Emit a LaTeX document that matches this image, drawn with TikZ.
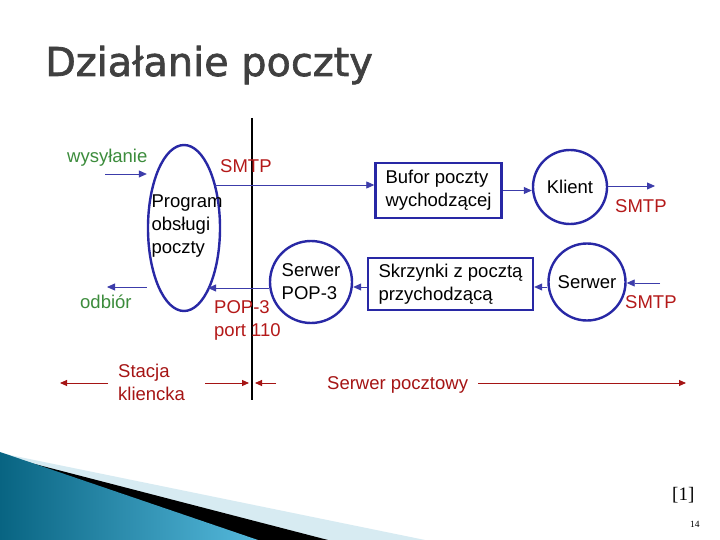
\documentclass[tikz,border=0pt]{standalone}
\usepackage{fontspec}
\setmainfont{Liberation Sans}
\newfontfamily\titlefont[FakeBold=1.6]{DejaVu Sans}
\newfontfamily\seriffont{Liberation Serif}
\usetikzlibrary{shapes.geometric,arrows.meta}
\definecolor{nodeblue}{RGB}{40,40,165}
\definecolor{linkblue}{RGB}{60,60,170}
\definecolor{lblred}{RGB}{180,25,25}
\definecolor{axisred}{RGB}{165,20,20}
\definecolor{lblgreen}{RGB}{60,140,60}
\definecolor{titlegray}{RGB}{64,64,64}
\definecolor{tealdark}{RGB}{8,100,130}
\definecolor{teallight}{RGB}{85,185,220}
\definecolor{paleblue}{RGB}{215,235,242}
\tikzset{
  txt/.style={font=\fontsize{18.5}{23}\selectfont, inner sep=0pt},
  boxnode/.style={draw=nodeblue, line width=2.4pt, txt, align=left},
  circnode/.style={circle, draw=nodeblue, line width=2.4pt, txt, align=left, inner sep=0pt},
  arr/.style={draw=linkblue, line width=0.8pt, -{Triangle[length=8pt,width=7pt]}},
  redarr/.style={draw=axisred, line width=0.9pt, -{Triangle[length=7pt,width=6pt]}},
  redlbl/.style={txt, text=lblred, align=left},
  greenlbl/.style={txt, text=lblgreen},
}
\begin{document}
\begin{tikzpicture}[x=1pt,y=-1pt]
\useasboundingbox (0,0) rectangle (720,540);
\fill[white] (0,0) rectangle (720,540);

% bottom-left swoosh
\fill[paleblue] (0,453) -- (425,540) -- (0,540) -- cycle;
\fill[black] (0,455) -- (328,540) -- (0,540) -- cycle;
\shade[left color=tealdark, right color=teallight] (0,452) -- (258,540) -- (0,540) -- cycle;

% title
\node[anchor=base west, inner sep=0pt, font=\titlefont\fontsize{39.8}{40}\selectfont, text=titlegray] (title) at (45,76) {Działanie poczty};

% vertical divider
\coordinate (vtop) at (252,118);
\coordinate (vbot) at (252,400);
\draw[black, line width=1.8pt] (vtop) -- (vbot);

% nodes
\node[ellipse, draw=nodeblue, line width=2.4pt, minimum width=72pt, minimum height=166pt, inner sep=0pt] (prog) at (184,228) {};
\node[txt, align=left] (progtxt) at (187,226) {Program\\obsługi\\poczty};
\node[boxnode, minimum width=126pt, minimum height=55pt] (buf) at (438.5,190.5) {Bufor poczty\\wychodzącej};
\node[circnode, minimum size=74pt] (klient) at (570,187) {Klient};
\node[circnode, minimum size=82pt] (pop) at (311,282) {Serwer\\POP-3};
\node[boxnode, minimum width=165pt, minimum height=52pt] (skrz) at (450.5,284) {Skrzynki z pocztą\\przychodzącą};
\node[circnode, minimum size=77pt] (serw) at (587,282) {Serwer};

% labels
\node[greenlbl, anchor=base west] (wys) at (67,163) {wysyłanie};
\node[greenlbl, anchor=base west] (odb) at (80,308) {odbiór};
\node[redlbl, anchor=base west] (smtp1) at (220,173) {SMTP};
\node[redlbl, anchor=base west] (smtp2) at (615,213) {SMTP};
\node[redlbl, anchor=base west] (smtp3) at (625,308) {SMTP};
\node[redlbl, anchor=north west] (popport) at (214,300) {POP-3\\port 110};
\node[txt, text=axisred, align=left, anchor=west] (stacja) at (118,382) {Stacja\\kliencka};
\node[txt, text=axisred, anchor=base west] (serwpoczt) at (327,389) {Serwer pocztowy};

% blue connectors
\coordinate (wysin) at (105,174);
\draw[arr] (wysin) -- (wysin -| prog.west);
\coordinate (odbout) at (107,287);
\draw[arr] (odbout -| prog.west) -- (odbout);
\coordinate (smtpstart) at (215,185);
\draw[arr] (smtpstart) -- (smtpstart -| buf.west);
\draw[arr] (buf.east) -- (buf.east -| klient.west);
\coordinate (klout) at (655,186);
\draw[arr] (klout -| klient.east) -- (klout);
\coordinate (serwin) at (660,283);
\draw[arr] (serwin) -- (serwin -| serw.east);
\coordinate (row2) at (450,287);
\draw[arr] (row2 -| serw.west) -- (row2 -| skrz.east);
\draw[arr] (row2 -| skrz.west) -- (row2 -| pop.east);
\coordinate (row2b) at (300,288);
\draw[arr] (row2b -| pop.west) -- (208,288);

% bottom axis arrows
\coordinate (a1) at (108,383);
\coordinate (a1e) at (60,383);
\coordinate (a2) at (205,383);
\coordinate (a2e) at (249,383);
\coordinate (a3) at (276,383);
\coordinate (a3e) at (255,383);
\coordinate (a4) at (478,383);
\coordinate (a4e) at (686,383);
\draw[redarr] (a1) -- (a1e);
\draw[redarr] (a2) -- (a2e);
\draw[redarr] (a3) -- (a3e);
\draw[redarr] (a4) -- (a4e);

% footer
\node[inner sep=0pt, anchor=base west, font=\seriffont\fontsize{19}{19}\selectfont] (ref) at (672,500) {[1]};
\node[inner sep=0pt, anchor=base west, font=\seriffont\fontsize{9.5}{9.5}\selectfont] (pagenum) at (690,527) {14};
\end{tikzpicture}
\end{document}
